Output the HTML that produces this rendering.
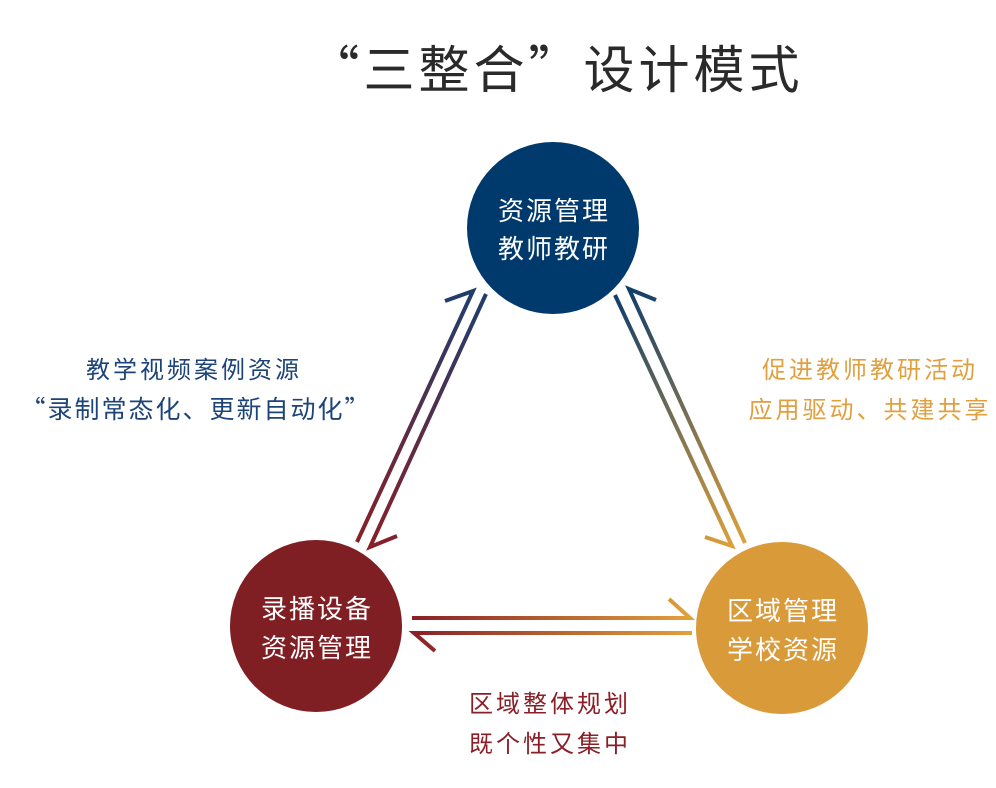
<!DOCTYPE html>
<html><head><meta charset="utf-8"><style>
body{margin:0;width:996px;height:783px;background:#fff;overflow:hidden;font-family:"Liberation Sans","Noto Sans CJK SC",sans-serif;}
</style></head><body>
<svg width="996" height="783" xmlns="http://www.w3.org/2000/svg" style="font-family:'Noto Sans CJK SC',sans-serif">
<defs>
<linearGradient id="gl" gradientUnits="userSpaceOnUse" x1="473" y1="291" x2="357" y2="542"><stop offset="0" stop-color="#1f3d6e"/><stop offset="1" stop-color="#8a1f27"/></linearGradient>
<linearGradient id="gr" gradientUnits="userSpaceOnUse" x1="615" y1="292" x2="740" y2="545"><stop offset="0" stop-color="#0d3c6c"/><stop offset="1" stop-color="#dea03a"/></linearGradient>
<linearGradient id="gb" gradientUnits="userSpaceOnUse" x1="412" y1="0" x2="692" y2="0"><stop offset="0" stop-color="#8a1f27"/><stop offset="1" stop-color="#e2a23a"/></linearGradient>
</defs>
<text x="556" y="88" font-size="51" text-anchor="middle" fill="#2a2a2a" letter-spacing="4">“三整合”设计模式</text>
<g fill="none" stroke-width="4">
<path d="M357,542 L473,291 L445,301" stroke="url(#gl)"/>
<path d="M486,294 L370,547 L397,536" stroke="url(#gl)"/>
<path d="M615,295 L732,546 L705,537" stroke="url(#gr)"/>
<path d="M656,300 L629,289 L745,543" stroke="url(#gr)"/>
<path d="M412,618 L690,618 L669,599" stroke="url(#gb)"/>
<path d="M435,651 L414,633 L692,633" stroke="url(#gb)"/>
</g>
<circle cx="553" cy="228" r="86" fill="#003a6c"/>
<circle cx="316" cy="626" r="86" fill="#7f1f24"/>
<circle cx="782" cy="628" r="86" fill="#d99a3a"/>
<g fill="#fff" font-size="26" text-anchor="middle" letter-spacing="2">
<text x="554" y="220">资源管理</text><text x="554" y="258">教师教研</text>
<text x="317" y="618">录播设备</text><text x="317" y="657">资源管理</text>
<text x="783" y="620">区域管理</text><text x="783" y="659">学校资源</text>
</g>
<g font-size="24" text-anchor="middle" letter-spacing="3">
<text x="194" y="378" fill="#1d4478">教学视频案例资源</text>
<text x="196" y="418" fill="#1d4478" font-size="25" letter-spacing="2">“录制常态化、更新自动化”</text>
<text x="870" y="378" fill="#e0a040">促进教师教研活动</text>
<text x="870" y="418" fill="#e0a040">应用驱动、共建共享</text>
<text x="550" y="712" fill="#8a1f27">区域整体规划</text>
<text x="550" y="752" fill="#8a1f27">既个性又集中</text>
</g>
</svg>
</body></html>
